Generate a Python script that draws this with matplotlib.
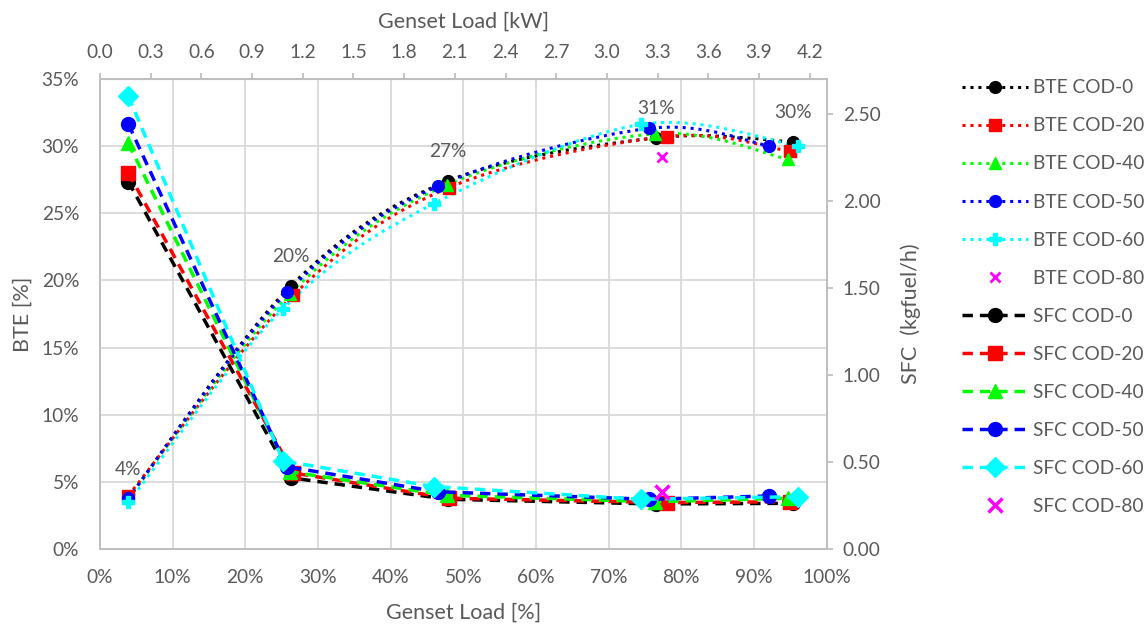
import matplotlib
matplotlib.use("Agg")
import matplotlib.pyplot as plt
from matplotlib.lines import Line2D
from matplotlib.patches import PathPatch
from matplotlib.path import Path

plt.rcParams["font.family"] = ["Lato", "DejaVu Sans"]

GREY = "#595959"
GRID = "#d9d9d9"
SPINE = "#bfbfbf"
FS = 13.8
FS_TITLE = 15.5

series_names = ["COD-0", "COD-20", "COD-40", "COD-50", "COD-60"]
colors = ["#000000", "#ff0000", "#00ff00", "#0000ff", "#00ffff"]
bte_markers = ["o", "s", "^", "o", "P"]
sfc_markers = ["o", "s", "^", "o", "D"]

# genset load [%] per series
load_pct = [
    [3.9, 26.3, 47.9, 76.5, 95.4],
    [3.9, 26.6, 48.0, 78.0, 95.0],
    [3.9, 26.1, 47.7, 76.4, 94.7],
    [3.9, 25.7, 46.5, 75.5, 92.1],
    [3.9, 25.2, 45.9, 74.4, 96.1],
]
# brake thermal efficiency [%]
bte = [
    [3.8, 19.6, 27.4, 30.6, 30.3],
    [4.0, 18.9, 26.9, 30.7, 29.6],
    [3.8, 19.0, 27.1, 30.9, 29.0],
    [3.8, 19.1, 27.0, 31.3, 30.0],
    [3.5, 17.9, 25.7, 31.6, 30.0],
]
# specific fuel consumption [kgfuel/h]
sfc = [
    [2.11, 0.41, 0.287, 0.26, 0.264],
    [2.16, 0.438, 0.293, 0.268, 0.273],
    [2.33, 0.445, 0.31, 0.273, 0.293],
    [2.44, 0.474, 0.33, 0.287, 0.306],
    [2.60, 0.507, 0.36, 0.287, 0.302],
]
cod80_load = 77.3
cod80_bte = 29.2
cod80_sfc = 0.33

KW_AT_FULL = 4.3


def smooth_path(xs, ys):
    # Catmull-Rom through the points, drawn as cubic Bezier segments
    pts = list(zip(xs, ys))
    verts = [pts[0]]
    codes = [Path.MOVETO]
    n = len(pts)
    for i in range(n - 1):
        p0 = pts[i - 1] if i > 0 else pts[i]
        p1 = pts[i]
        p2 = pts[i + 1]
        p3 = pts[i + 2] if i + 2 < n else pts[i + 1]
        c1 = (p1[0] + (p2[0] - p0[0]) / 6, p1[1] + (p2[1] - p0[1]) / 6)
        c2 = (p2[0] - (p3[0] - p1[0]) / 6, p2[1] - (p3[1] - p1[1]) / 6)
        verts += [c1, c2, p2]
        codes += [Path.CURVE4] * 3
    return Path(verts, codes)


fig = plt.figure(figsize=(11.45, 6.29), dpi=100)
ax = fig.add_axes([0.0873, 0.1267, 0.6347, 0.7482])
ax2 = ax.twinx()

dotted = (0, (1, 1.6))
dashed = (0, (3, 2))
handles_bte, handles_sfc = [], []
for name, c, mb, ms, x, yb, ys in zip(series_names, colors, bte_markers, sfc_markers,
                                      load_pct, bte, sfc):
    ax.add_patch(PathPatch(smooth_path(x, yb), fill=False, edgecolor=c, lw=2.2,
                           linestyle=dotted, zorder=3))
    ax.plot(x, yb, linestyle="none", marker=mb, color=c, ms=8.5, zorder=4)
    ax2.plot(x, ys, linestyle=dashed, lw=2.5, marker=ms, color=c, ms=10, zorder=3)
    handles_bte.append(Line2D([], [], color=c, lw=2.2, linestyle=dotted,
                              marker=mb, ms=8.5, label=f"BTE {name}"))
    handles_sfc.append(Line2D([], [], color=c, lw=2.5, linestyle=dashed,
                              marker=ms, ms=10, label=f"SFC {name}"))

ax.plot([cod80_load], [cod80_bte], linestyle="none", marker="x", color="#ff00ff",
        ms=7, mew=2, zorder=4)
ax2.plot([cod80_load], [cod80_sfc], linestyle="none", marker="x", color="#ff00ff",
         ms=10, mew=2.5, zorder=4)
handles_bte.append(Line2D([], [], linestyle="none", marker="x", color="#ff00ff",
                          ms=7, mew=2, label="BTE COD-80"))
handles_sfc.append(Line2D([], [], linestyle="none", marker="x", color="#ff00ff",
                          ms=10, mew=2.5, label="SFC COD-80"))

# data labels on the COD-0 efficiency curve
for xv, yv in zip(load_pct[0], bte[0]):
    ax.annotate(f"{yv:.0f}%", (xv, yv), xytext=(0, 29), textcoords="offset pixels",
                ha="center", va="center", fontsize=FS, color=GREY)

ax.set_xlim(0, 100)
ax.set_ylim(0, 35)
ax2.set_ylim(0, 2.7)
ax.set_xticks(range(0, 101, 10))
ax.set_xticklabels([f"{v}%" for v in range(0, 101, 10)])
ax.set_yticks(range(0, 36, 5))
ax.set_yticklabels([f"{v}%" for v in range(0, 36, 5)])
sfc_ticks = [0, 0.5, 1.0, 1.5, 2.0, 2.5]
ax2.set_yticks(sfc_ticks)
ax2.set_yticklabels([f"{v:.2f}" for v in sfc_ticks])

ax.grid(True, color=GRID, lw=1.3)
ax.set_axisbelow(True)
ax.tick_params(axis="x", length=0, labelsize=FS, labelcolor=GREY, pad=14)
ax.tick_params(axis="y", length=0, labelsize=FS, labelcolor=GREY, pad=15)
ax2.tick_params(axis="y", length=4.5, color=SPINE, width=1.3, labelsize=FS,
                labelcolor=GREY, pad=7)
for a in (ax, ax2):
    for s in a.spines.values():
        s.set_color(SPINE)
        s.set_linewidth(1.3)

top = ax.secondary_xaxis("top", functions=(lambda p: p * KW_AT_FULL / 100,
                                            lambda k: k * 100 / KW_AT_FULL))
kw_ticks = [i * 0.3 for i in range(15)]
top.set_xticks(kw_ticks)
top.set_xticklabels([f"{v:.1f}" for v in kw_ticks])
top.tick_params(length=4.5, width=1.3, color=SPINE, labelsize=FS, labelcolor=GREY, pad=8)
top.spines["top"].set_color(SPINE)
top.set_xlabel("Genset Load [kW]", fontsize=FS_TITLE, color=GREY, labelpad=12)

ax.set_xlabel("Genset Load [%]", fontsize=FS_TITLE, color=GREY, labelpad=12)
ax.set_ylabel("BTE [%]", fontsize=FS_TITLE, color=GREY, labelpad=6)
ax2.set_ylabel("SFC  (kgfuel/h)", fontsize=FS_TITLE, color=GREY, labelpad=14)

fig.legend(handles=handles_bte + handles_sfc, loc="upper left",
           bbox_to_anchor=(0.8405, 0.874), frameon=False, fontsize=FS,
           labelcolor=GREY, handlelength=3.4, handletextpad=0.26,
           labelspacing=1.1, numpoints=1, borderpad=0, borderaxespad=0)

fig.savefig("out.png", dpi=100)
